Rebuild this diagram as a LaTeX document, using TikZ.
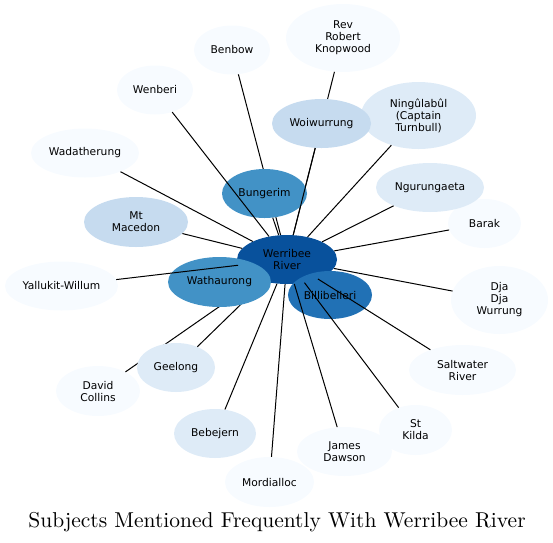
\documentclass[tikz,border=0pt]{standalone}
\usepackage{fontspec}
\newfontfamily\subjfont{DejaVu Sans}
\newfontfamily\titlefont{lmroman10-regular}[Extension=.otf]
\usetikzlibrary{shapes.geometric}
\definecolor{bluesA}{HTML}{08519C}
\definecolor{bluesB}{HTML}{2171B5}
\definecolor{bluesC}{HTML}{4292C6}
\definecolor{bluesD}{HTML}{C6DBEF}
\definecolor{bluesE}{HTML}{DEEBF7}
\definecolor{bluesF}{HTML}{F7FBFF}
\begin{document}
\begin{tikzpicture}
[x=1pt,y=-1pt,
 subject/.style={ellipse,inner sep=0pt,align=center,
                 font=\subjfont\fontsize{10.7}{12}\selectfont},
 link/.style={line width=1pt}]
\useasboundingbox (0,0) rectangle (553,542);
\node[subject,fill=bluesA,minimum width=100pt,minimum height=49pt] (werribee) at (287,259.5) {Werribee\\River}; % hub
\node[subject,fill=bluesF,minimum width=114pt,minimum height=68pt] (knopwood) at (343,38) {Rev\\Robert\\Knopwood};
\node[subject,fill=bluesF,minimum width=76pt,minimum height=49pt] (benbow) at (232,50) {Benbow};
\node[subject,fill=bluesF,minimum width=84pt,minimum height=50pt] (collins) at (98,391) {David\\Collins};
% edges hidden behind later nodes
\draw[link] (knopwood) -- (werribee);
\draw[link] (benbow) -- (werribee);
\draw[link] (collins) -- (werribee);
\node[subject,fill=bluesE,minimum width=78pt,minimum height=49pt] (geelong) at (176,367.5) {Geelong};
\draw[link] (geelong) -- (werribee);
\node[subject,fill=bluesC,minimum width=103pt,minimum height=50pt] (wathaurong) at (219.5,282) {Wathaurong};
\node[subject,fill=bluesB,minimum width=84pt,minimum height=48pt] (billibelleri) at (330,295) {Billibelleri};
\node[subject,fill=bluesC,minimum width=85pt,minimum height=49pt] (bungerim) at (264.5,193.5) {Bungerim};
\node[subject,fill=bluesE,minimum width=115pt,minimum height=67pt] (ningulabul) at (418.5,115.5) {Ningûlabûl\\(Captain\\Turnbull)};
\node[subject,fill=bluesD,minimum width=99pt,minimum height=49pt] (woiwurrung) at (321.5,123.5) {Woiwurrung};
\node[subject,fill=bluesF,minimum width=73pt,minimum height=49pt] (barak) at (484.5,223.5) {Barak};
\node[subject,fill=bluesE,minimum width=108pt,minimum height=49pt] (ngurungaeta) at (430,187.5) {Ngurungaeta};
\node[subject,fill=bluesF,minimum width=76pt,minimum height=49pt] (wenberi) at (155,90) {Wenberi};
\node[subject,fill=bluesF,minimum width=108pt,minimum height=49pt] (wadatherung) at (85,153) {Wadatherung};
\node[subject,fill=bluesD,minimum width=104pt,minimum height=50pt] (macedon) at (136,222) {Mt\\Macedon};
\node[subject,fill=bluesF,minimum width=113pt,minimum height=49pt] (yallukit) at (61.5,286) {Yallukit-Willum};
\node[subject,fill=bluesE,minimum width=82pt,minimum height=49pt] (bebejern) at (215,433.5) {Bebejern};
\node[subject,fill=bluesF,minimum width=89pt,minimum height=50pt] (mordialloc) at (269.5,482) {Mordialloc};
\node[subject,fill=bluesF,minimum width=95pt,minimum height=49pt] (dawson) at (344.5,451.5) {James\\Dawson};
\node[subject,fill=bluesF,minimum width=73pt,minimum height=50pt] (stkilda) at (415.5,430) {St\\Kilda};
\node[subject,fill=bluesF,minimum width=107pt,minimum height=50pt] (saltwater) at (462.5,370) {Saltwater\\River};
\node[subject,fill=bluesF,minimum width=97pt,minimum height=68pt] (djadja) at (499.5,300) {Dja\\Dja\\Wurrung};
\foreach \n in {bungerim,woiwurrung,ningulabul,ngurungaeta,barak,djadja,
                saltwater,stkilda,dawson,mordialloc,bebejern,yallukit,
                macedon,wadatherung,wenberi}
  \draw[link] (\n) -- (werribee);
\node[anchor=base] (title) at (277,527)
  {\titlefont\fontsize{21.5}{24}\selectfont Subjects Mentioned Frequently With Werribee River};
\end{tikzpicture}
\end{document}
